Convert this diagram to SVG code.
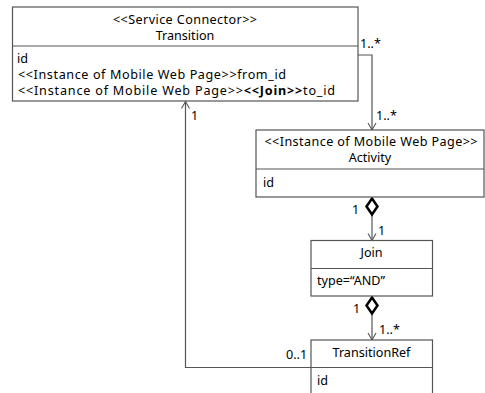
<svg xmlns="http://www.w3.org/2000/svg" width="485" height="393" viewBox="0 0 485 393">
<defs>
<style>
.box{fill:#fff;stroke:#555;stroke-width:1.2}
.div{stroke:#555;stroke-width:1.2}
.t{font-family:"Noto Sans","Liberation Sans",sans-serif;font-size:12.6px;fill:#000}
.c{text-anchor:middle}
.ln{fill:none;stroke:#555;stroke-width:1.2}
.dia{fill:#fff;stroke:#000;stroke-width:2.5}
</style>
<marker id="open" markerWidth="10" markerHeight="10" refX="8" refY="5" orient="auto" markerUnits="userSpaceOnUse">
<path d="M1,1 L8,5 L1,9" fill="none" stroke="#555" stroke-width="1.1"/>
</marker>
</defs>
<rect width="485" height="393" fill="#fff"/>
<g id="connectors">
<polyline class="ln" points="358,55 372,55 372,130" marker-end="url(#open)"/>
<line class="ln" x1="372" y1="215" x2="372" y2="240.5" marker-end="url(#open)"/>
<line class="ln" x1="372" y1="315" x2="372" y2="340" marker-end="url(#open)"/>
<polyline class="ln" points="311,367.5 185.5,367.5 185.5,101.5" marker-end="url(#open)"/>
<path class="dia" d="M372,198.5 L377.5,206.5 L372,214.5 L366.5,206.5 Z"/>
<path class="dia" d="M372,297.5 L377.5,305.5 L372,313.5 L366.5,305.5 Z"/>
<text class="t" x="360" y="48">1..*</text>
<text class="t" x="376" y="120">1..*</text>
<text class="t" x="352" y="214">1</text>
<text class="t" x="378" y="235">1</text>
<text class="t" x="353" y="313">1</text>
<text class="t" x="379" y="334">1..*</text>
<text class="t" x="191" y="120">1</text>
<text class="t" x="286" y="359">0..1</text>
</g>
<g id="Transition">
<rect class="box" x="12.5" y="7" width="345.5" height="94"/>
<line class="div" x1="12.5" y1="46" x2="358" y2="46"/>
<text class="t c" x="185" y="24" textLength="144" lengthAdjust="spacing">&lt;&lt;Service Connector&gt;&gt;</text>
<text class="t c" x="185" y="40">Transition</text>
<text class="t" x="17" y="63">id</text>
<text class="t" x="18" y="79" textLength="268" lengthAdjust="spacing">&lt;&lt;Instance of  Mobile Web Page&gt;&gt;from_id</text>
<text class="t" x="18" y="95" textLength="317" lengthAdjust="spacing">&lt;&lt;Instance of  Mobile Web Page&gt;&gt;<tspan font-weight="bold">&lt;&lt;Join&gt;&gt;</tspan>to_id</text>
</g>
<g id="Activity">
<rect class="box" x="256" y="130" width="228" height="67"/>
<line class="div" x1="256" y1="169" x2="484" y2="169"/>
<text class="t c" x="371" y="146" textLength="213" lengthAdjust="spacing">&lt;&lt;Instance of Mobile Web Page&gt;&gt;</text>
<text class="t c" x="370" y="162">Activity</text>
<text class="t" x="263" y="187">id</text>
</g>
<g id="Join">
<rect class="box" x="311" y="240.5" width="121.5" height="55.5"/>
<line class="div" x1="311" y1="268.5" x2="432.5" y2="268.5"/>
<text class="t c" x="371.5" y="257">Join</text>
<text class="t" x="317" y="285">type=“AND”</text>
</g>
<g id="TransitionRef">
<rect class="box" x="311" y="340" width="121.5" height="60"/>
<line class="div" x1="311" y1="367.5" x2="432.5" y2="367.5"/>
<text class="t c" x="371.5" y="357">TransitionRef</text>
<text class="t" x="317" y="385">id</text>
</g>
</svg>
